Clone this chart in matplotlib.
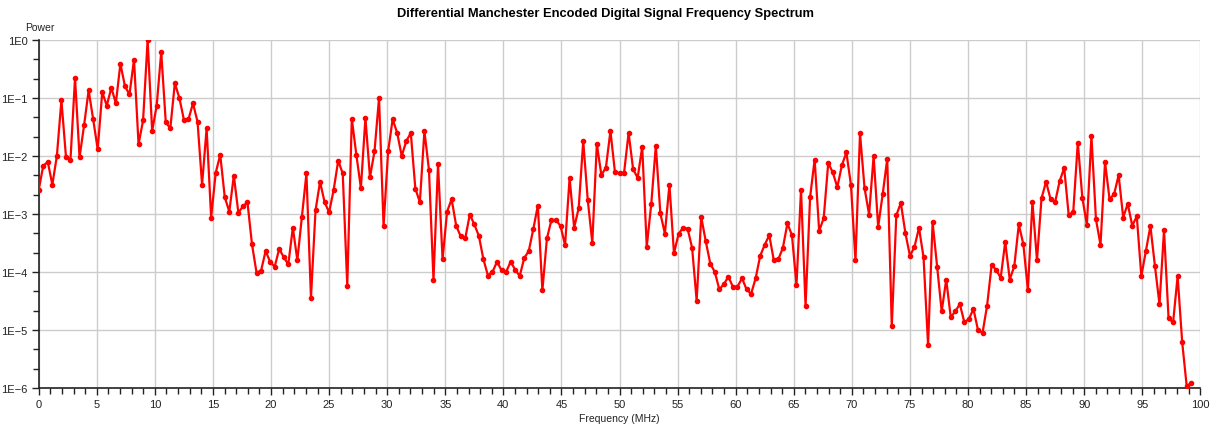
import matplotlib.pyplot as plt
from matplotlib.ticker import FixedLocator, MultipleLocator, FuncFormatter
import numpy as np

plt.rcParams['font.family'] = ['Liberation Sans', 'DejaVu Sans']

# FFT bin spacing: 200 MHz sample rate, 512-point FFT
sample_rate_mhz = 200.0
fft_size = 512

# Power per frequency bin (normalised to the strongest bin)
power = [
    2.6e-3, 6.8e-3, 7.9e-3, 3.2e-3, 1.0e-2, 9.1e-2, 9.8e-3, 8.7e-3, 0.22, 9.5e-3,
    3.4e-2, 0.135, 4.3e-2, 1.3e-2, 0.126, 7.4e-2, 0.15, 8.1e-2, 0.39, 0.16,
    0.115, 0.46, 1.6e-2, 4.1e-2, 1.0, 2.7e-2, 7.4e-2, 0.62, 3.8e-2, 3.0e-2,
    0.18, 0.10, 4.2e-2, 4.3e-2, 8.1e-2, 3.9e-2, 3.2e-3, 3.0e-2, 8.7e-4, 5.1e-3,
    1.05e-2, 1.95e-3, 1.1e-3, 4.6e-3, 1.05e-3, 1.35e-3, 1.6e-3, 3.0e-4, 9.8e-5, 1.05e-4,
    2.3e-4, 1.5e-4, 1.23e-4, 2.5e-4, 1.8e-4, 1.35e-4, 5.8e-4, 1.6e-4, 8.9e-4, 5.0e-3,
    3.6e-5, 1.15e-3, 3.6e-3, 1.6e-3, 1.07e-3, 2.6e-3, 8.3e-3, 5.0e-3, 5.8e-5, 4.4e-2,
    1.05e-2, 2.8e-3, 4.5e-2, 4.3e-3, 1.2e-2, 0.10, 6.2e-4, 1.2e-2, 4.3e-2, 2.5e-2,
    1.0e-2, 1.8e-2, 2.5e-2, 2.75e-3, 1.6e-3, 2.7e-2, 5.8e-3, 7.4e-5, 7.2e-3, 1.66e-4,
    1.1e-3, 1.8e-3, 6.3e-4, 4.1e-4, 3.8e-4, 9.8e-4, 6.6e-4, 4.2e-4, 1.66e-4, 8.7e-5,
    1.0e-4, 1.5e-4, 1.07e-4, 1.0e-4, 1.5e-4, 1.1e-4, 8.5e-5, 1.74e-4, 2.3e-4, 5.5e-4,
    1.4e-3, 4.8e-5, 3.8e-4, 7.9e-4, 7.9e-4, 6.2e-4, 2.9e-4, 4.2e-3, 5.8e-4, 1.26e-3,
    1.8e-2, 1.74e-3, 3.2e-4, 1.6e-2, 4.7e-3, 6.3e-3, 2.7e-2, 5.2e-3, 5.1e-3, 5.1e-3,
    2.5e-2, 5.9e-3, 4.2e-3, 1.45e-2, 2.75e-4, 1.5e-3, 1.5e-2, 1.02e-3, 4.6e-4, 3.2e-3,
    2.1e-4, 4.5e-4, 5.8e-4, 5.6e-4, 2.6e-4, 3.2e-5, 8.9e-4, 3.4e-4, 1.4e-4, 1.0e-4,
    5.0e-5, 6.2e-5, 8.3e-5, 5.5e-5, 5.6e-5, 7.8e-5, 5.0e-5, 4.2e-5, 7.8e-5, 1.9e-4,
    2.95e-4, 4.3e-4, 1.6e-4, 1.66e-4, 2.6e-4, 6.9e-4, 4.3e-4, 6.0e-5, 2.6e-3, 2.6e-5,
    1.95e-3, 8.7e-3, 5.1e-4, 8.5e-4, 7.6e-3, 5.2e-3, 2.9e-3, 6.9e-3, 1.15e-2, 3.2e-3,
    1.6e-4, 2.45e-2, 2.8e-3, 9.8e-4, 1.0e-2, 6.0e-4, 2.2e-3, 8.9e-3, 1.15e-5, 9.5e-4,
    1.55e-3, 4.7e-4, 1.9e-4, 2.7e-4, 5.8e-4, 1.8e-4, 5.5e-6, 7.2e-4, 1.23e-4, 2.1e-5,
    7.4e-5, 1.66e-5, 2.1e-5, 2.8e-5, 1.35e-5, 1.55e-5, 2.3e-5, 1.0e-5, 8.9e-6, 2.6e-5,
    1.3e-4, 1.1e-4, 7.9e-5, 3.3e-4, 7.4e-5, 1.26e-4, 6.6e-4, 3.0e-4, 4.9e-5, 1.6e-3,
    1.6e-4, 1.86e-3, 3.6e-3, 1.8e-3, 1.6e-3, 3.7e-3, 6.2e-3, 9.5e-4, 1.1e-3, 1.7e-2,
    1.9e-3, 6.5e-4, 2.2e-2, 8.1e-4, 2.95e-4, 7.8e-3, 1.8e-3, 2.2e-3, 4.7e-3, 8.7e-4,
    1.5e-3, 6.3e-4, 9.1e-4, 8.5e-5, 2.3e-4, 6.2e-4, 1.26e-4, 2.8e-5, 5.2e-4, 1.6e-5,
    1.35e-5, 8.5e-5, 6.2e-6, 1.07e-6, 1.23e-6,
]

freq = np.arange(len(power)) * sample_rate_mhz / fft_size

decades = np.arange(-6, 1)
ytick_labels = ["1E0" if d == 0 else f"1E\u2212{-d}" for d in decades]

fig = plt.figure(figsize=(12.1, 4.27), dpi=100)
ax = fig.add_axes([0.032, 0.089, 0.96, 0.815])

ax.plot(freq, power, color='#ff0000', linewidth=1.6, marker='o',
        markersize=3.0, zorder=3, clip_on=True)

ax.set_yscale('log')
ax.set_ylim(1e-6, 1)
ax.set_xlim(0, 100)

ax.yaxis.set_major_locator(FixedLocator(10.0 ** decades))
ax.set_yticklabels(ytick_labels)
minor_y = [10.0 ** (d + f) for d in range(-6, 0) for f in (1 / 3, 2 / 3)]
ax.yaxis.set_minor_locator(FixedLocator(minor_y))
ax.yaxis.set_minor_formatter(FuncFormatter(lambda v, p: ""))

ax.xaxis.set_major_locator(MultipleLocator(5))
ax.xaxis.set_minor_locator(MultipleLocator(1))

ax.grid(True, which='major', color='#cccccc', linewidth=1.0)
ax.set_axisbelow(True)

for side in ('top', 'right'):
    ax.spines[side].set_visible(False)
for side in ('left', 'bottom'):
    ax.spines[side].set_color('#222222')
    ax.spines[side].set_linewidth(1.2)

ax.tick_params(axis='both', which='major', length=5, width=1, color='#222222',
               labelsize=8, labelcolor='#222222', pad=3)
ax.tick_params(axis='both', which='minor', length=4, width=1, color='#222222')

ax.set_xlabel("Frequency (MHz)", fontsize=7.5, color='#222222', labelpad=3)
fig.text(0.021, 0.923, "Power", fontsize=7.5, color='#222222', ha='left', va='bottom')
fig.suptitle("Differential Manchester Encoded Digital Signal Frequency Spectrum",
             fontsize=9.3, fontweight='bold', y=0.982, va='top')

fig.savefig("out.png", dpi=100)
